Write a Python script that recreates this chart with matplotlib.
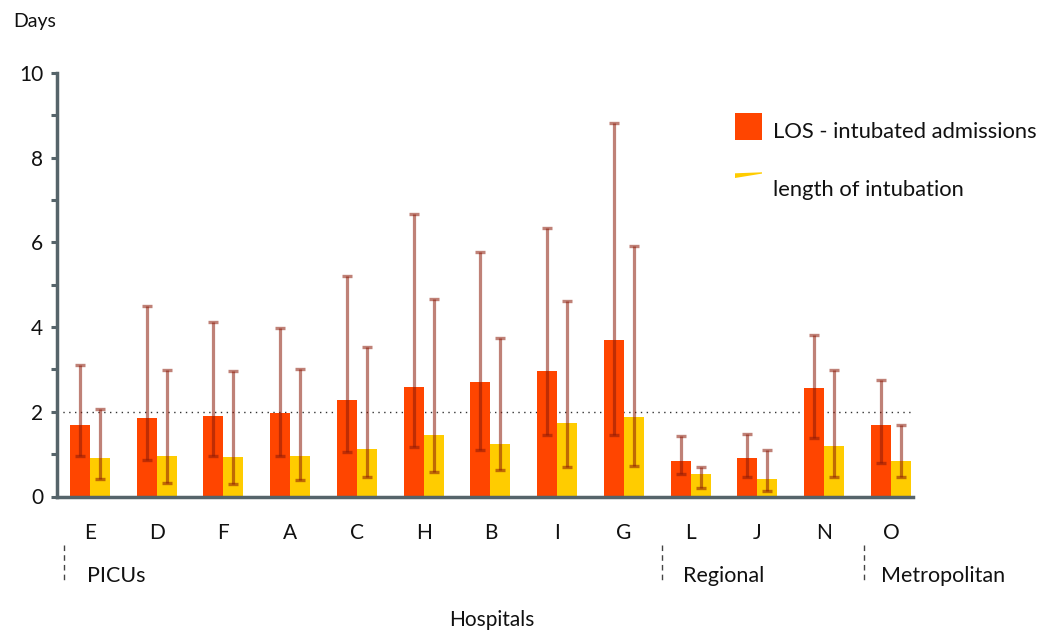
import matplotlib
matplotlib.use("Agg")
import matplotlib.pyplot as plt
from matplotlib.patches import Rectangle, Polygon
from matplotlib.lines import Line2D
import numpy as np

# ---- data ----
hospitals = ["E", "D", "F", "A", "C", "H", "B", "I", "G", "L", "J", "N", "O"]
los = [1.70, 1.86, 1.90, 1.96, 2.29, 2.59, 2.71, 2.96, 3.69, 0.84, 0.90, 2.57, 1.70]
los_low = [0.95, 0.87, 0.96, 0.95, 1.04, 1.16, 1.10, 1.45, 1.46, 0.52, 0.46, 1.37, 0.80]
los_high = [3.10, 4.50, 4.12, 3.99, 5.20, 6.68, 5.78, 6.34, 8.83, 1.43, 1.48, 3.81, 2.76]
intub = [0.92, 0.95, 0.93, 0.96, 1.12, 1.45, 1.24, 1.74, 1.87, 0.53, 0.41, 1.20, 0.83]
intub_low = [0.41, 0.32, 0.29, 0.39, 0.45, 0.57, 0.63, 0.69, 0.72, 0.20, 0.14, 0.46, 0.47]
intub_high = [2.06, 2.99, 2.96, 3.02, 3.53, 4.66, 3.74, 4.62, 5.92, 0.69, 1.10, 2.99, 1.69]
y_ticks = [0, 2, 4, 6, 8, 10]
ref_line = 2
groups = ["PICUs", "Regional", "Metropolitan"]

plt.rcParams['font.family'] = ['Lato', 'DejaVu Sans']

W, H = 1056, 633
fig = plt.figure(figsize=(W / 100, H / 100), dpi=100)

def fx(x):
    return x / W

def fy(y):
    return 1 - y / H

ax = fig.add_axes([fx(57), fy(496.5), fx(913 - 57), (496.5 - 73) / H])

RED = "#FF4500"
YEL = "#FFCC00"
ECOL = (0.55, 0.10, 0.03, 0.55)

x = np.arange(len(hospitals))
bw = 0.3
ax.bar(x - bw / 2, los, width=bw, color=RED, zorder=2)
ax.bar(x + bw / 2, intub, width=bw, color=YEL, zorder=2)

los_a = np.array(los)
int_a = np.array(intub)
for xs, vals, lo, hi in [(x - bw / 2, los_a, los_low, los_high),
                         (x + bw / 2, int_a, intub_low, intub_high)]:
    yerr = [vals - np.array(lo), np.array(hi) - vals]
    ax.errorbar(xs, vals, yerr=yerr, fmt='none', ecolor=ECOL,
                elinewidth=2.3, capsize=3.8, capthick=2.4, zorder=3)

ax.axhline(ref_line, color="#333333", lw=1.0, linestyle=(0, (1, 3.2)), zorder=1)

ax.set_xlim(-0.494, 12.33)
ax.set_ylim(0, 10)

for s in ["top", "right"]:
    ax.spines[s].set_visible(False)
for s in ["left", "bottom"]:
    ax.spines[s].set_color("#56646a")
    ax.spines[s].set_linewidth(2.5)

ax.set_yticks(y_ticks)
ax.set_yticks(np.arange(1, 10, 2), minor=True)
ax.tick_params(axis='y', which='both', length=4, width=2.2, color="#56646a",
               labelsize=15, pad=6, labelcolor="#111111")
ax.set_xticks(x)
ax.set_xticklabels(hospitals)
ax.tick_params(axis='x', length=0, pad=19, labelsize=15, labelcolor="#111111")

# axis titles
fig.text(fx(13), fy(22), "Days", fontsize=14, ha='left', va='center', color="#111111")
fig.text(fx(491.5), fy(619.5), "Hospitals", fontsize=15, ha='center', va='center', color="#111111")

# group labels and separators
group_pos = [(64, 87), (662, 683), (864, 881)]
for name, (sx, tx) in zip(groups, group_pos):
    fig.add_artist(Line2D([fx(sx), fx(sx)], [fy(545), fy(582)], transform=fig.transFigure,
                          color="#444444", lw=1.0, linestyle=(0, (4, 3))))
    fig.text(fx(tx), fy(576), name, fontsize=15.5, ha='left', va='center', color="#111111")

# legend
fig.add_artist(Rectangle((fx(735), fy(140)), fx(27), 27 / H, transform=fig.transFigure,
                         facecolor=RED, edgecolor='none'))
fig.add_artist(Polygon([(fx(735), fy(173.3)), (fx(762), fy(172.3)), (fx(762), fy(173.6)),
                        (fx(735), fy(178))], closed=True, transform=fig.transFigure,
                       facecolor=YEL, edgecolor='none'))
fig.text(fx(773), fy(132), "LOS - intubated admissions", fontsize=15.8, ha='left', va='center',
         color="#111111")
fig.text(fx(773), fy(190), "length of intubation", fontsize=15.8, ha='left', va='center',
         color="#111111")

fig.savefig("out.png", dpi=100)
